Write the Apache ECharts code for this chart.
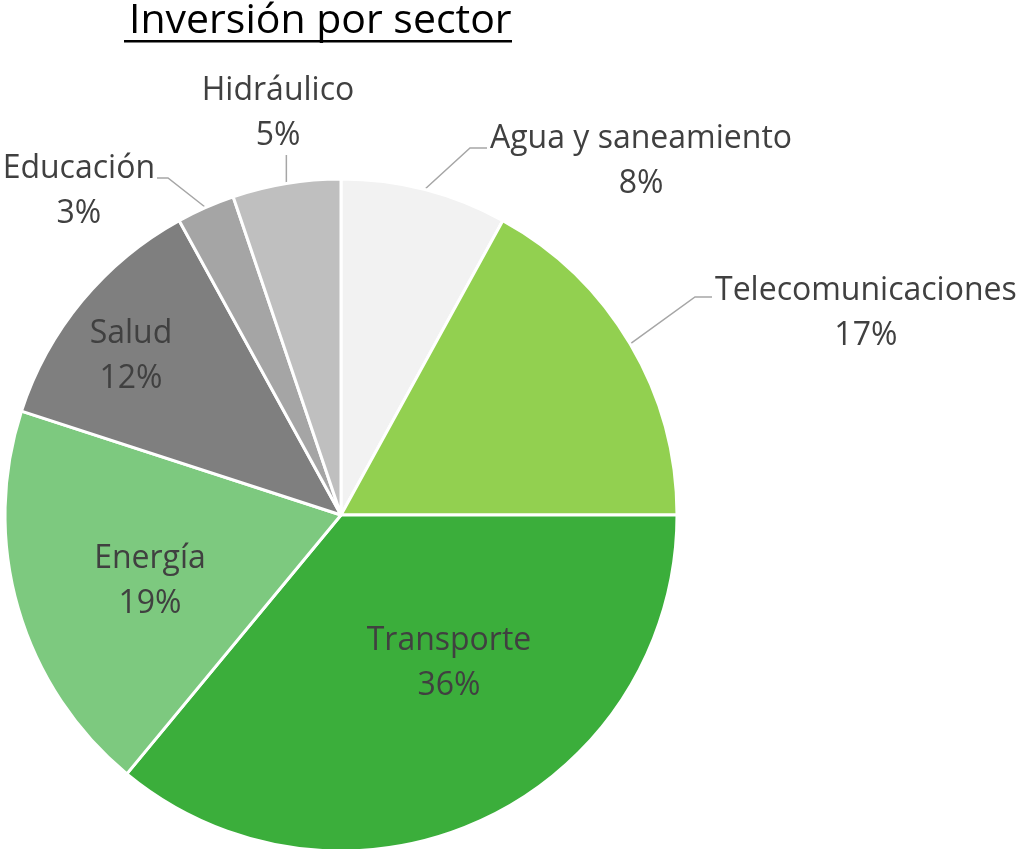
<!DOCTYPE html>
<html>
<head>
<meta charset="utf-8">
<script src="https://cdn.jsdelivr.net/npm/echarts@6/dist/echarts.min.js"></script>
<style>
  html, body { margin: 0; padding: 0; background: #fff; }
  #main { width: 1023px; height: 849px; }
</style>
</head>
<body>
<div id="main"></div>
<script>
// datos del gráfico
var sectores = ['Agua y saneamiento', 'Telecomunicaciones', 'Transporte', 'Energía', 'Salud', 'Educación', 'Hidráulico'];
var inversion = [8, 17, 36, 19, 12, 2.8, 5.2];
var colores = ['#F2F2F2', '#92D050', '#3BAE3B', '#7DC97F', '#7F7F7F', '#A5A5A5', '#BFBFBF'];

// posicion de cada etiqueta (borde del texto segun align), y codo de la linea guia
var etiquetas = [
  { x: 490, y: 161, align: 'left', codo: [470, 148], fin: [487, 148] },
  { x: 715, y: 313, align: 'left', codo: [695, 297], fin: [712, 297] },
  { x: 449, y: 663, align: 'center' },
  { x: 150, y: 581, align: 'center' },
  { x: 131, y: 356, align: 'center' },
  { x: 155, y: 191, align: 'right', codo: [168, 178], fin: [157, 178] },
  { x: 278, y: 113, align: 'center', fin: [287, 155] }
];

var myChart = echarts.init(document.getElementById('main'));

var datos = sectores.map(function (s, i) {
  var fuera = !!etiquetas[i].fin;
  return {
    name: s,
    value: inversion[i],
    itemStyle: { color: colores[i] },
    label: { position: fuera ? 'outside' : 'inside' },
    labelLine: { show: fuera }
  };
});

var option = {
  animation: false,
  title: {
    text: 'Inversión por sector',
    left: 124,
    top: -4,
    textStyle: { fontFamily: 'Open Sans', fontSize: 41, fontWeight: 'normal', color: '#000' }
  },
  graphic: [{
    type: 'rect',
    shape: { x: 124, y: 40, width: 388, height: 2.5 },
    style: { fill: '#000' }
  }],
  series: [{
    type: 'pie',
    center: [341, 515],
    radius: 336,
    startAngle: 90,
    clockwise: true,
    avoidLabelOverlap: false,
    data: datos,
    itemStyle: { borderColor: '#fff', borderWidth: 3 },
    label: {
      formatter: function (p) { return p.name + '\n' + Math.round(p.percent) + '%'; },
      fontFamily: 'Open Sans',
      fontSize: 32,
      lineHeight: 45,
      align: 'center',
      color: '#404040'
    },
    labelLine: {
      lineStyle: { color: '#A6A6A6', width: 1.5 }
    },
    labelLayout: function (params) {
      var e = etiquetas[params.dataIndex];
      var w = params.labelRect.width;
      var x = e.x;
      if (e.align === 'left') x = e.x + w / 2;
      if (e.align === 'right') x = e.x - w / 2;
      var res = { x: x, y: e.y, align: 'center', verticalAlign: 'middle' };
      if (e.fin && params.labelLinePoints) {
        var inicio = params.labelLinePoints[0];
        res.labelLinePoints = e.codo ? [inicio, e.codo, e.fin] : [inicio, [inicio[0], e.fin[1]]];
      }
      return res;
    }
  }]
};

myChart.setOption(option);
</script>
</body>
</html>
